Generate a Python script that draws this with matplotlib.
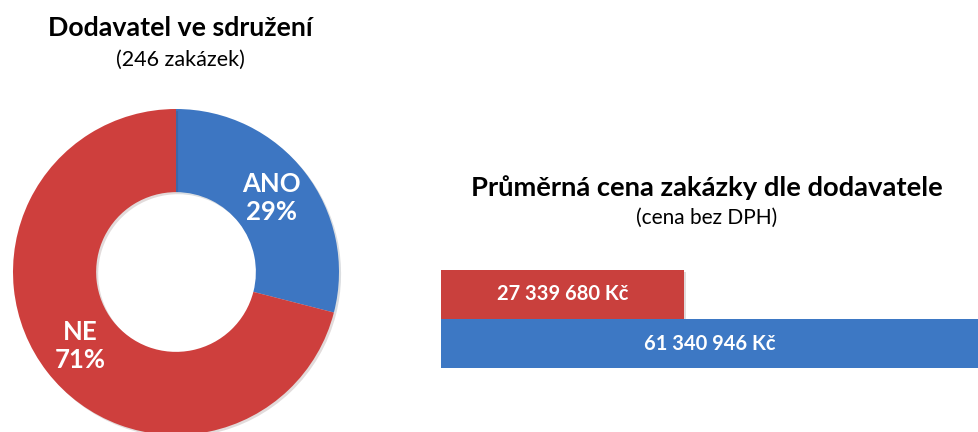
import matplotlib.pyplot as plt
import matplotlib.patheffects as pe
import numpy as np

plt.rcParams['font.family'] = ['Lato', 'DejaVu Sans']

# donut data
donut_labels = ['ANO', 'NE']
donut_shares = [29, 71]
donut_colors = ['#3D76C2', '#CE3F3D']

# bar data
bar_labels = ['27 339 680 Kč', '61 340 946 Kč']
bar_values = [27339680, 61340946]
bar_colors = ['#C9403D', '#3D78C4']

W, H = 979, 432


def px_axes(fig, left, top, width, height):
    """axes from pixel box (top measured from top edge)"""
    return fig.add_axes([left / W, 1 - (top + height) / H, width / W, height / H])


def main():
    fig = plt.figure(figsize=(W / 100, H / 100), dpi=100)
    fig.patch.set_facecolor('white')

    # --- donut ---
    cx, cy, r = 176, 272, 163
    ax1 = px_axes(fig, cx - r, cy - r, 2 * r, 2 * r)
    wedges, _ = ax1.pie(donut_shares, colors=donut_colors, startangle=90,
                        counterclock=False, radius=1.0,
                        wedgeprops=dict(width=0.51, edgecolor='none'))
    for w in wedges:
        w.set_path_effects([pe.SimplePatchShadow(offset=(1.5, -1.5), alpha=0.15),
                            pe.Normal()])
    ax1.set_xlim(-1, 1)
    ax1.set_ylim(-1, 1)
    ax1.axis('off')

    start = 90.0
    for lab, share in zip(donut_labels, donut_shares):
        span = share / sum(donut_shares) * 360
        mid = np.deg2rad(start - span / 2)
        start -= span
        ax1.text(0.74 * np.cos(mid), 0.74 * np.sin(mid), f'{lab}\n{share}%',
                 ha='center', va='center', color='white', fontsize=18.5,
                 fontweight='bold', linespacing=1.2)

    fig.text(180 / W, 1 - 28 / H, 'Dodavatel ve sdružení', ha='center', va='center',
             fontsize=19.3, fontweight='bold')
    fig.text(180 / W, 1 - 60 / H, '(246 zakázek)', ha='center', va='center',
             fontsize=15.5)

    # --- bars ---
    ax2 = px_axes(fig, 441, 270, 538, 98)
    y = np.arange(len(bar_values))[::-1]
    xmax = bar_values[0] * 538 / 243
    bars = ax2.barh(y, bar_values, height=1.0, color=bar_colors, edgecolor='none')
    for b in bars:
        b.set_path_effects([pe.SimplePatchShadow(offset=(1.5, -1.5), alpha=0.15),
                            pe.Normal()])
    ax2.set_xlim(0, xmax)
    ax2.set_ylim(-0.5, 1.5)
    for yi, v, lab in zip(y, bar_values, bar_labels):
        ax2.text(min(v, xmax) / 2, yi, lab, ha='center', va='center',
                 color='white', fontsize=14.5, fontweight='bold')
    ax2.axis('off')

    fig.text(707 / W, 1 - 188 / H, 'Průměrná cena zakázky dle dodavatele',
             ha='center', va='center', fontsize=19.7, fontweight='bold')
    fig.text(707 / W, 1 - 218 / H, '(cena bez DPH)', ha='center', va='center',
             fontsize=15)

    fig.savefig('out.png', dpi=100)


if __name__ == "__main__":
    main()
